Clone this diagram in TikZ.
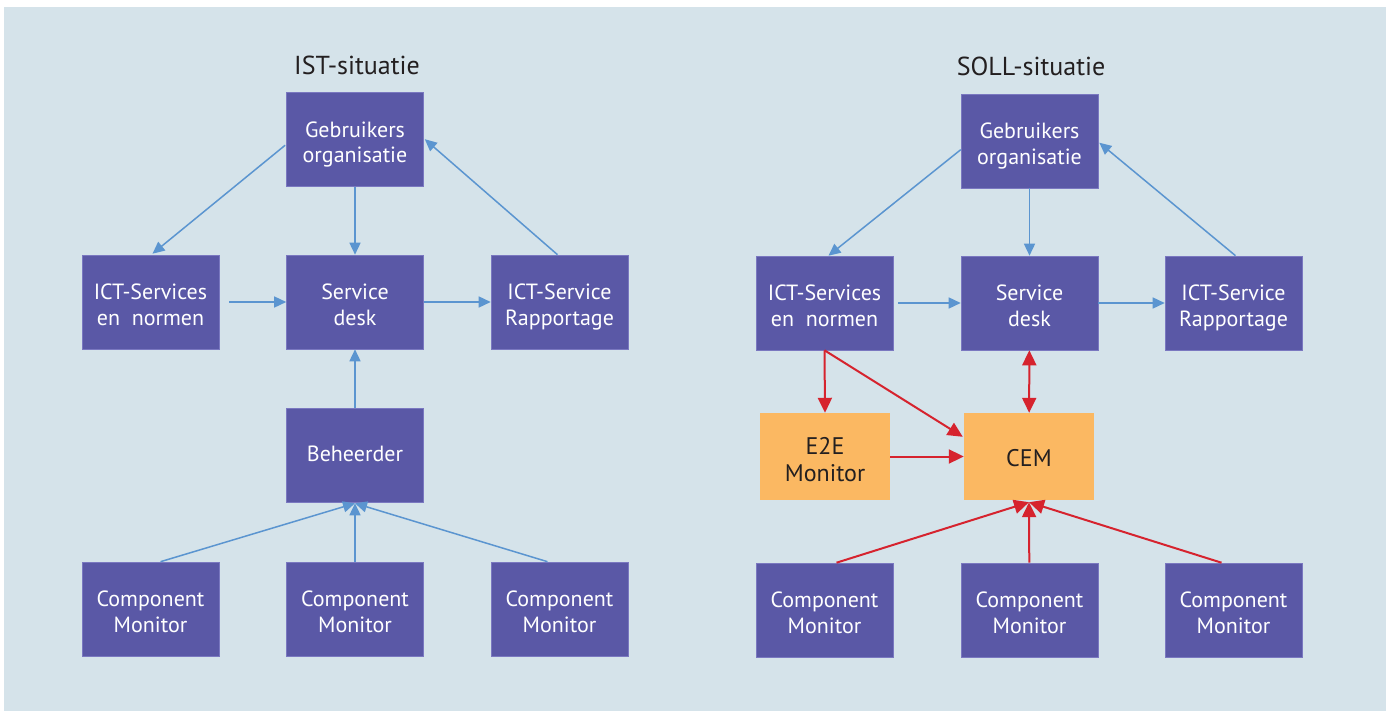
\documentclass[tikz,border=0pt]{standalone}
\usepackage{fontspec}
\setmainfont{PT Sans}
\usetikzlibrary{arrows.meta,calc}
\definecolor{bg}{HTML}{D5E3EA}
\definecolor{boxblue}{HTML}{5A58A6}
\definecolor{boxedge}{HTML}{7A78C0}
\definecolor{orangebox}{HTML}{FBB862}
\definecolor{arrowblue}{HTML}{5B95D0}
\definecolor{arrowred}{HTML}{D6232E}
\definecolor{darktext}{HTML}{231F20}
\tikzset{
  box/.style={fill=boxblue, draw=boxedge, line width=0.6pt, text=white,
    minimum width=137pt, minimum height=94pt, align=center, inner sep=0pt,
    font=\fontsize{22}{25.6}\selectfont, text height=47pt, text depth=0pt},
  onebox/.style={box, text height=15pt, text depth=3pt},
  obox/.style={fill=orangebox, draw=none, text=darktext,
    minimum width=130pt, minimum height=87pt, align=center, inner sep=0pt,
    font=\fontsize{24}{26.7}\selectfont, text height=49pt, text depth=0pt},
  oneobox/.style={obox, text height=19pt, text depth=0pt},
  title/.style={text=darktext, font=\fontsize{26}{30}\selectfont, anchor=base, inner sep=0pt},
  barrow/.style={draw=arrowblue, line width=1.5pt, -{Triangle[length=12pt,width=11pt]}},
  rarrow/.style={draw=arrowred, line width=2pt, -{Triangle[length=15pt,width=14pt]}},
  rdarrow/.style={draw=arrowred, line width=2pt, {Triangle[length=15pt,width=14pt]}-{Triangle[length=15pt,width=14pt]}},
}
\begin{document}
\begin{tikzpicture}[x=1pt,y=-1pt]
\useasboundingbox (0,0) rectangle (1386,711);
\fill[bg] (4,7) rectangle (1386,711);

% ---------- IST ----------
\node[title] (t1) at (357,74.3) {IST-situatie};
\node[box] (g1) at (355,139.5) {Gebruikers\\organisatie};
\node[box] (ict1) at (150.5,302) {ICT-Services\\en\ \ normen};
\node[box] (sd1) at (355,302) {Service\\desk};
\node[box] (rap1) at (559.5,302) {ICT-Service\\Rapportage};
\node[onebox] (beh) at (355,455) {Beheerder};
\node[box] (cma) at (150.5,609) {Component\\Monitor};
\node[box] (cmb) at (355,609) {Component\\Monitor};
\node[box] (cmc) at (559.5,609) {Component\\Monitor};

\coordinate (g1l) at ($(g1.north west)+(-1,53)$);
\coordinate (ict1t) at ($(ict1.north)+(2,-1)$);
\coordinate (rap1t) at ($(rap1.north)+(-2,0)$);
\coordinate (g1r) at ($(g1.north east)+(1,47)$);
\coordinate (beht) at ($(beh.south)+(0,1)$);
\coordinate (cmat) at ($(cma.north)+(10,0)$);
\coordinate (cmct) at ($(cmc.north)+(-12,0)$);

\draw[barrow] (g1l) -- (ict1t);
\draw[barrow] (g1) -- (sd1);
\draw[barrow] (rap1t) -- (g1r);
\draw[barrow, shorten <=10pt] (ict1) -- (sd1);
\draw[barrow] (sd1) -- (rap1);
\draw[barrow] (beh) -- (sd1);
\draw[barrow] (cmat) -- (beht);
\draw[barrow] (cmb) -- (beht);
\draw[barrow] (cmct) -- (beht);

% ---------- SOLL ----------
\node[title] (t2) at (1031,76) {SOLL-situatie};
\node[box] (g2) at (1029.5,141) {Gebruikers\\organisatie};
\node[box] (ict2) at (824.5,303) {ICT-Services\\en\ \ normen};
\node[box] (sd2) at (1029.5,303) {Service\\desk};
\node[box] (rap2) at (1233.5,303) {ICT-Service\\Rapportage};
\node[obox] (e2e) at (825,456.5) {E2E\\Monitor};
\node[oneobox] (cem) at (1029,456.5) {CEM};
\node[box] (cmd) at (824.5,610) {Component\\Monitor};
\node[box] (cme) at (1029.5,610) {Component\\Monitor};
\node[box] (cmf) at (1233.5,610) {Component\\Monitor};

\coordinate (g2l) at ($(g2.north west)+(0,56)$);
\coordinate (ict2t) at ($(ict2.north)+(4,0)$);
\coordinate (rap2t) at ($(rap2.north)+(2,0)$);
\coordinate (g2r) at ($(g2.north east)+(1,49)$);
\coordinate (ict2b) at (ict2.south);
\coordinate (cemlt) at ($(cem.north west)+(-1,24)$);
\coordinate (cemb) at ($(cem.south)+(0,2)$);
\coordinate (cmdt) at ($(cmd.north)+(12,0)$);
\coordinate (cmft) at ($(cmf.north)+(-12,0)$);

\draw[barrow] (g2l) -- (ict2t);
\draw[barrow] (g2) -- (sd2);
\draw[barrow] (rap2t) -- (g2r);
\draw[barrow, shorten <=5pt] (ict2) -- (sd2);
\draw[barrow] (sd2) -- (rap2);

\draw[rarrow] (ict2b) -- (e2e.north);
\draw[rarrow] (ict2b) -- (cemlt);
\draw[rarrow] (e2e) -- (cem);
\draw[rdarrow] (sd2) -- (cem);
\draw[rarrow] (cmdt) -- (cemb);
\draw[rarrow] (cme) -- (cemb);
\draw[rarrow] (cmft) -- (cemb);
\end{tikzpicture}
\end{document}
